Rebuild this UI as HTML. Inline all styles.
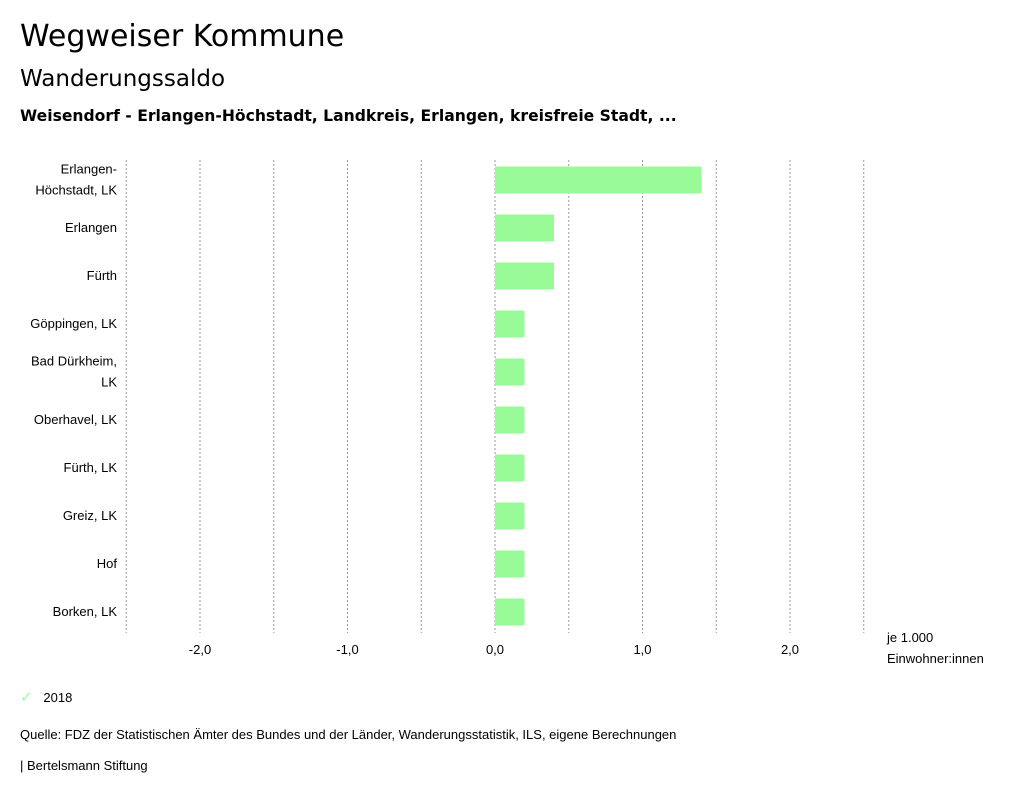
<!DOCTYPE html>
<html><head><meta charset="utf-8"><style>
body{margin:0;width:1024px;height:799px;background:#fff;font-family:"Liberation Sans",sans-serif;color:#000;position:relative;overflow:hidden}
.t{position:absolute;white-space:nowrap}
</style></head><body>
<div class="t" style="left:20px;top:19px;font-size:30px;font-family:'DejaVu Sans',sans-serif">Wegweiser Kommune</div>
<div class="t" style="left:20px;top:66px;font-size:23px;font-family:'DejaVu Sans',sans-serif">Wanderungssaldo</div>
<div class="t" style="left:20px;top:107px;font-size:15.6px;font-weight:bold;font-family:'DejaVu Sans',sans-serif">Weisendorf - Erlangen-Höchstadt, Landkreis, Erlangen, kreisfreie Stadt, ...</div>
<svg id="chart" width="1024" height="799" style="position:absolute;left:0;top:0" font-family="Liberation Sans, sans-serif" font-size="13"></svg>
<div class="t" style="left:20px;top:688px;font-size:13px"><span style="color:#98fb98;font-size:15px">✓</span>&nbsp;&nbsp;&nbsp;2018</div>
<div class="t" style="left:20px;top:727px;font-size:13px">Quelle: FDZ der Statistischen Ämter des Bundes und der Länder, Wanderungsstatistik, ILS, eigene Berechnungen</div>
<div class="t" style="left:20px;top:758px;font-size:13px">| Bertelsmann Stiftung</div>
<script>
const categories=[["Erlangen-","Höchstadt, LK"],["Erlangen"],["Fürth"],["Göppingen, LK"],["Bad Dürkheim,","LK"],["Oberhavel, LK"],["Fürth, LK"],["Greiz, LK"],["Hof"],["Borken, LK"]];
const values=[1.4,0.4,0.4,0.2,0.2,0.2,0.2,0.2,0.2,0.2];
const tickValues=[-2,-1,0,1,2];
const tickLabels=["-2,0","-1,0","0,0","1,0","2,0"];
const gridValues=[-2.5,-2,-1.5,-1,-0.5,0,0.5,1,1.5,2,2.5];
const svg=document.getElementById('chart');
const NS='http://www.w3.org/2000/svg';
const x=v=>495+v*147.5;
const y=i=>180+i*48;
function mk(t,a){const e=document.createElementNS(NS,t);for(const k in a)e.setAttribute(k,a[k]);svg.appendChild(e);return e;}
gridValues.forEach(v=>{const l=mk('line',{x1:x(v),x2:x(v),y1:160,y2:633,stroke:'#999','stroke-dasharray':'2,2'});

});
tickValues.forEach((v,i)=>{const t=mk('text',{x:x(v),y:654,'text-anchor':'middle'});t.textContent=tickLabels[i];

});
categories.forEach((c,i)=>{
 const r=mk('rect',{x:Math.min(x(0),x(values[i])),y:y(i)-13.5,width:Math.abs(x(values[i])-x(0)),height:27,fill:'#98fb98'});
 
 
 c.forEach((line,j)=>{const t=mk('text',{x:117,y:y(i)+4+(j-(c.length-1)/2)*21,'text-anchor':'end'});t.textContent=line;
 
 });
});
[["je 1.000",642],["Einwohner:innen",663]].forEach(d=>{const t=mk('text',{x:887,y:d[1]});t.textContent=d[0];

});
</script>
</body></html>
